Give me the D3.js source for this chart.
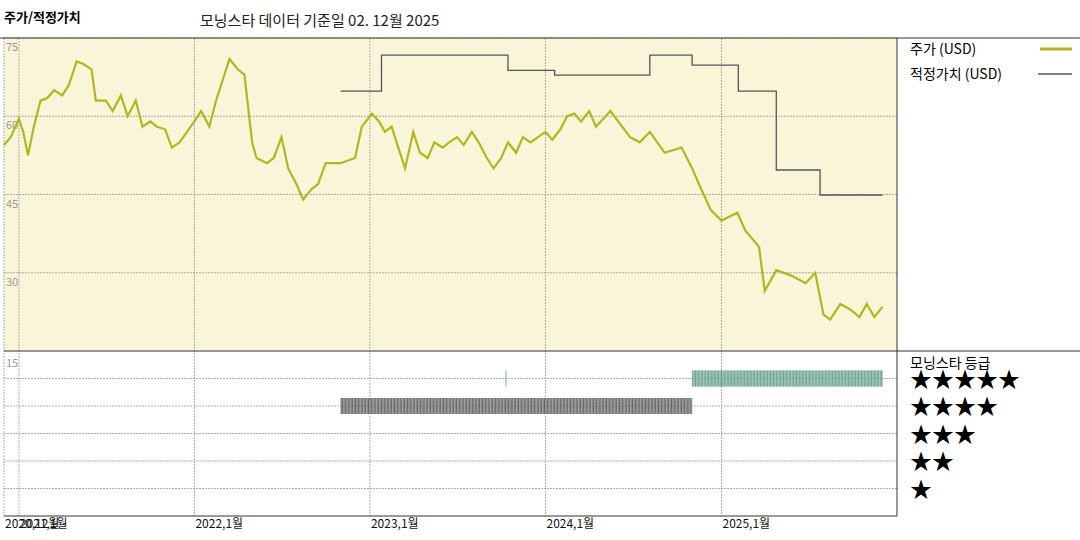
<!DOCTYPE html>
<html><head><meta charset="utf-8">
<script src="https://cdn.jsdelivr.net/npm/d3@7"></script>
<style>body{margin:0;background:#fff}text{font-family:"Noto Sans CJK KR","DejaVu Sans",sans-serif}</style>
</head><body><svg></svg>
<script>
// data
const priceDates = ["2020-12-01","2020-12-15","2021-01-01","2021-01-10","2021-01-20","2021-02-01","2021-02-15","2021-03-01","2021-03-15","2021-04-01","2021-04-15","2021-05-01","2021-05-15","2021-06-01","2021-06-10","2021-07-01","2021-07-15","2021-08-01","2021-08-15","2021-09-01","2021-09-15","2021-10-01","2021-10-15","2021-11-01","2021-11-15","2021-12-01","2022-01-01","2022-01-15","2022-02-01","2022-02-15","2022-03-01","2022-03-15","2022-04-01","2022-04-15","2022-05-01","2022-05-10","2022-06-01","2022-06-15","2022-07-01","2022-07-15","2022-08-01","2022-08-15","2022-09-01","2022-09-15","2022-10-01","2022-11-01","2022-12-01","2022-12-15","2023-01-05","2023-01-20","2023-02-01","2023-02-15","2023-03-01","2023-03-15","2023-04-01","2023-04-15","2023-05-01","2023-05-15","2023-06-01","2023-06-15","2023-07-01","2023-07-15","2023-08-01","2023-08-15","2023-09-01","2023-09-15","2023-10-01","2023-10-15","2023-11-01","2023-11-15","2023-12-01","2024-01-01","2024-01-15","2024-02-01","2024-02-15","2024-03-01","2024-03-15","2024-04-01","2024-04-15","2024-05-15","2024-06-25","2024-07-15","2024-08-05","2024-09-05","2024-10-10","2024-11-01","2024-11-20","2024-12-10","2025-01-01","2025-02-03","2025-02-20","2025-03-20","2025-04-01","2025-04-25","2025-05-25","2025-06-25","2025-07-15","2025-08-01","2025-08-15","2025-09-05","2025-09-25","2025-10-15","2025-10-30","2025-11-15","2025-12-02"];
const priceValues = [54.5,56,59.5,57,52.5,58,63,63.5,65,64,66,70.5,70,69,63,63,61,64,60,63,58,59,58,57.5,54,55,59,61,58,63,67,71,69,68,55,52,51,52,56,50,47,44,46,47,51,51,52,58,60.5,59,57,58,54,50,57,53,52,55,54,55,56,54.5,57,55,52,50,52,55,53,56,55,57,55.5,57.5,60,60.5,59,61,58,61,56,55,57,53,54,50,46,42,40,41.5,38,35,26.5,30.5,29.5,28,30,22,21,24,23,21.5,24,21.5,23.5];
const fairDates = ["2022-11-01","2023-01-25","2023-10-15","2024-01-20","2024-08-05","2024-11-01","2025-02-05","2025-04-25","2025-07-25","2025-12-02"];
const fairValues = [64.8,71.7,68.8,67.9,71.7,69.8,64.8,49.7,44.9,44.9];
const ratingPeriods = [
  {start:"2022-11-01", end:"2024-11-01", stars:4},
  {start:"2023-10-10", end:"2023-10-12", stars:5},
  {start:"2024-11-01", end:"2025-12-02", stars:5}];
const yTicks = [75,60,45,30];
const xTicks = ["2020-12-01","2021-01-01","2022-01-01","2023-01-01","2024-01-01","2025-01-01"];
const xTickLabels = ["2020,12월","2021,1월","2022,1월","2023,1월","2024,1월","2025,1월"];

const width = 1080, height = 540;
const svg = d3.select("svg").attr("width", width).attr("height", height);
const parse = d3.timeParse("%Y-%m-%d");
const pLeft = 4, pRight = 897, pTop = 38, pMid = 351, pBottom = 516;

const x = d3.scaleTime().domain([parse("2020-12-01"), parse("2026-01-01")]).range([pLeft, pRight]);
const y = d3.scaleLinear().domain([15, 75]).range([pMid, pTop]);
const yr = d3.scaleLinear().domain([6, 0]).range([pMid, pBottom]); // star rows

svg.append("rect").attr("x", pLeft).attr("y", pTop).attr("width", pRight - pLeft).attr("height", pMid - pTop).attr("fill", "#f9f5d8");

const grid = svg.append("g").attr("stroke", "#999").attr("stroke-dasharray", "2,1").attr("stroke-width", 0.8);
yTicks.forEach(v => grid.append("line").attr("x1", pLeft).attr("x2", pRight).attr("y1", y(v)).attr("y2", y(v)));
[5, 4, 3, 2, 1].forEach(s => grid.append("line").attr("x1", pLeft).attr("x2", pRight).attr("y1", yr(s)).attr("y2", yr(s)));
xTicks.slice(1).forEach(d => grid.append("line").attr("x1", x(parse(d))).attr("x2", x(parse(d))).attr("y1", pTop).attr("y2", pBottom));
grid.append("line").attr("x1", pLeft).attr("x2", pLeft).attr("y1", pTop).attr("y2", pBottom);

svg.append("g").attr("fill", "#999").attr("font-size", 11)
  .selectAll("text").data(yTicks.concat([15])).join("text")
  .attr("x", pLeft + 2).attr("y", (d, i) => i < 4 ? y(d) + 13 : pMid + 16).text(d => d);

// fair value
svg.append("path")
  .datum(fairDates.map((d, i) => [parse(d), fairValues[i]]))
  .attr("fill", "none").attr("stroke", "#555").attr("stroke-width", 1.3)
  .attr("d", d3.line().x(d => x(d[0])).y(d => y(d[1])).curve(d3.curveStepAfter));

// price
svg.append("path")
  .datum(priceDates.map((d, i) => [parse(d), priceValues[i]]))
  .attr("fill", "none").attr("stroke", "#b0b820").attr("stroke-width", 2.2)
  .attr("d", d3.line().x(d => x(d[0])).y(d => y(d[1])));

// ratings
ratingPeriods.forEach(p => {
  const days = d3.timeDay.range(parse(p.start), parse(p.end));
  const col = p.stars === 5 ? "#3d8c72" : "#333";
  svg.append("g").selectAll("line").data(days).join("line")
    .attr("x1", d => x(d)).attr("x2", d => x(d))
    .attr("y1", yr(p.stars) - 8).attr("y2", yr(p.stars) + 8)
    .attr("stroke", (d, i) => i % 3 === 0 ? "#ddd" : col).attr("stroke-width", 0.6);
});

// frame
svg.append("line").attr("x1", 0).attr("x2", width).attr("y1", pTop).attr("y2", pTop).attr("stroke", "#333");
svg.append("line").attr("x1", pLeft).attr("x2", width).attr("y1", pMid).attr("y2", pMid).attr("stroke", "#333");
svg.append("line").attr("x1", pLeft).attr("x2", pRight).attr("y1", pBottom).attr("y2", pBottom).attr("stroke", "#333");
svg.append("line").attr("x1", pRight).attr("x2", pRight).attr("y1", pTop).attr("y2", pBottom).attr("stroke", "#333");

svg.append("g").attr("font-size", 12).attr("fill", "#111")
  .selectAll("text").data(xTicks).join("text")
  .attr("x", d => x(parse(d)) + 1).attr("y", 528).text((d, i) => xTickLabels[i]);

svg.append("text").attr("x", 4).attr("y", 22).attr("font-size", 13).attr("font-weight", "bold").text("주가/적정가치");
svg.append("text").attr("x", 200).attr("y", 26).attr("font-size", 15).attr("fill", "#222").text("모닝스타 데이터 기준일 02. 12월 2025");

// legend
svg.append("text").attr("x", 910).attr("y", 54).attr("font-size", 14).text("주가 (USD)");
svg.append("line").attr("x1", 1040).attr("x2", 1072).attr("y1", 49).attr("y2", 49).attr("stroke", "#b0b820").attr("stroke-width", 3);
svg.append("text").attr("x", 910).attr("y", 79).attr("font-size", 14).text("적정가치 (USD)");
svg.append("line").attr("x1", 1038).attr("x2", 1072).attr("y1", 74).attr("y2", 74).attr("stroke", "#555").attr("stroke-width", 1.3);
svg.append("text").attr("x", 910).attr("y", 368).attr("font-size", 14).text("모닝스타 등급");
svg.append("g").attr("font-size", 22).selectAll("text").data([5, 4, 3, 2, 1]).join("text")
  .attr("x", 910).attr("y", d => yr(d) + 8).text(d => "★".repeat(d));
</script></body></html>
